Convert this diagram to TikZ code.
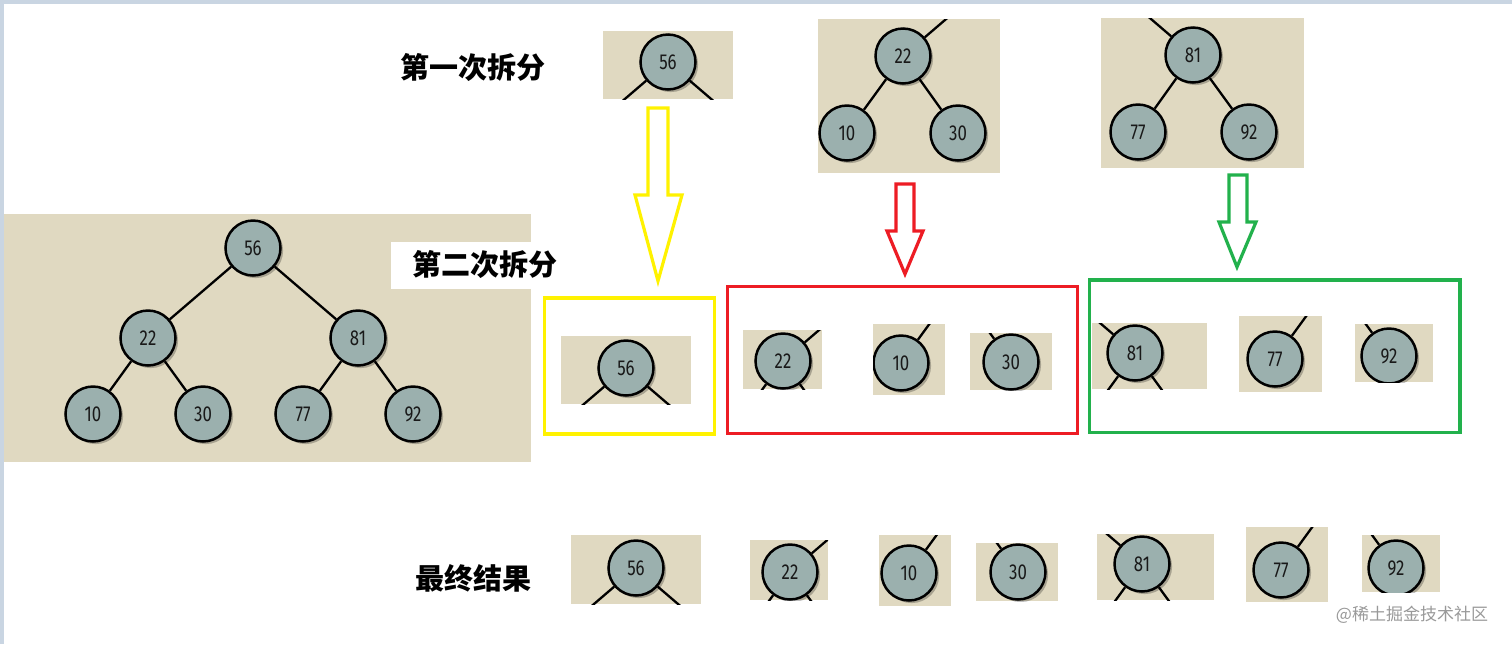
\documentclass[tikz,border=0pt]{standalone}
\usepackage{fontspec}
\newfontfamily\cjk{Noto Sans CJK SC}
\newfontfamily\numf{Fira Sans}
\usetikzlibrary{shadows}
\definecolor{beige}{HTML}{E0D9C1}
\definecolor{nodefill}{HTML}{9BB0AE}
\definecolor{bordblue}{HTML}{C9D5E2}
\definecolor{pyellow}{HTML}{FFF200}
\definecolor{pred}{HTML}{ED1C24}
\definecolor{pgreen}{HTML}{22B14C}
\newcommand{\numtxt}[1]{\scalebox{0.78}[1]{#1}}
\tikzset{
  bn/.style={circle, draw=black, line width=1.25pt, fill=nodefill, minimum size=27.5pt, inner sep=0pt,
    font=\numf\fontsize{10.8}{12}\selectfont, text=black!90,
    drop shadow={shadow xshift=1.3pt, shadow yshift=-1.3pt, fill=black, opacity=0.25}},
  edge/.style={line width=1.15pt, black},
  panel/.style={fill=beige},
  title/.style={font=\cjk\bfseries\fontsize{14.5}{16}\selectfont, text=black},
  hbox/.style={line width=1.7pt},
  harrow/.style={line width=1.6pt, line join=miter, fill=white}
}
\begin{document}
\begin{tikzpicture}[x=0.5pt,y=-0.5pt]
\useasboundingbox (0,0) rectangle (1512,644);
\fill[white] (0,0) rectangle (1512,644);
\fill[bordblue] (0,0) rectangle (1512,3.5);
\fill[bordblue] (0,0) rectangle (4,644);

% ---------- big tree ----------
\fill[panel] (4,214) rectangle (531,462);
\node[bn] (t56) at (253,248) {\numtxt{56}};
\node[bn] (t22) at (148,338) {\numtxt{22}};
\node[bn] (t81) at (358,338) {\numtxt{81}};
\node[bn] (t10) at (93,414) {\numtxt{10}};
\node[bn] (t30) at (203,414) {\numtxt{30}};
\node[bn] (t77) at (303,414) {\numtxt{77}};
\node[bn] (t92) at (413,414) {\numtxt{92}};
\draw[edge] (t56) -- (t22);
\draw[edge] (t56) -- (t81);
\draw[edge] (t22) -- (t10);
\draw[edge] (t22) -- (t30);
\draw[edge] (t81) -- (t77);
\draw[edge] (t81) -- (t92);

% ---------- labels ----------
\node[title] (l1) at (473,67) {第一次拆分};
\fill[white] (391,242) rectangle (545,289);
\node[title] (l2) at (484.5,264) {第二次拆分};
\node[title] (l3) at (473.5,578) {最终结果};
\node[font=\cjk\fontsize{8.5}{10}\selectfont, text=black!40] (wm) at (1412,615) {@稀土掘金技术社区};

% ---------- first split ----------
\begin{scope}
\clip (603,31) rectangle (733,99);
\fill[panel] (603,31) rectangle (733,99);
\node[bn] (a56) at (668,62) {\numtxt{56}};
\path (a56) ++(-63,54) coordinate (a56l) (a56) ++(63,54) coordinate (a56r);
\draw[edge] (a56) -- (a56l);
\draw[edge] (a56) -- (a56r);
\end{scope}

\begin{scope}
\clip (818,19) rectangle (1000,173);
\fill[panel] (818,19) rectangle (1000,173);
\node[bn] (a22) at (903,56) {\numtxt{22}};
\node[bn] (a10) at (847,133) {\numtxt{10}};
\node[bn] (a30) at (958,133) {\numtxt{30}};
\path (a22) ++(63,-54) coordinate (a22u);
\draw[edge] (a22) -- (a22u);
\draw[edge] (a22) -- (a10);
\draw[edge] (a22) -- (a30);
\end{scope}

\begin{scope}
\clip (1101,18) rectangle (1304,168);
\fill[panel] (1101,18) rectangle (1304,168);
\node[bn] (a81) at (1193,55) {\numtxt{81}};
\node[bn] (a77) at (1138,132) {\numtxt{77}};
\node[bn] (a92) at (1249,132) {\numtxt{92}};
\path (a81) ++(-63,-54) coordinate (a81u);
\draw[edge] (a81) -- (a81u);
\draw[edge] (a81) -- (a77);
\draw[edge] (a81) -- (a92);
\end{scope}

% ---------- arrows ----------
\draw[harrow, draw=pyellow] (648,108) -- (668,108) -- (668,195) -- (682,195) -- (658,281) -- (635,195) -- (648,195) -- cycle;
\draw[harrow, draw=pred] (896,184) -- (914,184) -- (914,231) -- (923,231) -- (905,274) -- (887,231) -- (896,231) -- cycle;
\draw[harrow, draw=pgreen] (1229,175) -- (1247,175) -- (1247,222) -- (1256,222) -- (1237,267) -- (1219,222) -- (1229,222) -- cycle;

% ---------- boxes ----------
\draw[hbox, draw=pyellow] (544.5,298) rectangle (714.5,434);
\draw[hbox, draw=pred] (727.5,286.5) rectangle (1077.5,433.5);
\draw[hbox, draw=pgreen] (1089.5,280) rectangle (1460,432.5);

% ---------- second split ----------
\begin{scope}
\clip (561,336) rectangle (691,404);
\fill[panel] (561,336) rectangle (691,404);
\node[bn] (b56) at (626,368) {\numtxt{56}};
\path (b56) ++(-63,54) coordinate (b56l) (b56) ++(63,54) coordinate (b56r);
\draw[edge] (b56) -- (b56l);
\draw[edge] (b56) -- (b56r);
\end{scope}

\begin{scope}
\clip (743,330) rectangle (822,389);
\fill[panel] (743,330) rectangle (822,389);
\node[bn] (b22) at (783,361) {\numtxt{22}};
\path (b22) ++(63,-54) coordinate (b22u) (b22) ++(-40,55) coordinate (b22l) (b22) ++(40,55) coordinate (b22r);
\draw[edge] (b22) -- (b22u);
\draw[edge] (b22) -- (b22l);
\draw[edge] (b22) -- (b22r);
\end{scope}

\begin{scope}
\clip (873,324) rectangle (945,395);
\fill[panel] (873,324) rectangle (945,395);
\node[bn] (b10) at (901,363) {\numtxt{10}};
\path (b10) ++(40,-55) coordinate (b10u);
\draw[edge] (b10) -- (b10u);
\end{scope}

\begin{scope}
\clip (970,333) rectangle (1052,390);
\fill[panel] (970,333) rectangle (1052,390);
\node[bn] (b30) at (1011,362) {\numtxt{30}};
\path (b30) ++(-40,-55) coordinate (b30u);
\draw[edge] (b30) -- (b30u);
\end{scope}

\begin{scope}
\clip (1092,323) rectangle (1207,389);
\fill[panel] (1092,323) rectangle (1207,389);
\node[bn] (b81) at (1135,353) {\numtxt{81}};
\path (b81) ++(-63,-54) coordinate (b81u) (b81) ++(-40,55) coordinate (b81l) (b81) ++(40,55) coordinate (b81r);
\draw[edge] (b81) -- (b81u);
\draw[edge] (b81) -- (b81l);
\draw[edge] (b81) -- (b81r);
\end{scope}

\begin{scope}
\clip (1239,316) rectangle (1322,392);
\fill[panel] (1239,316) rectangle (1322,392);
\node[bn] (b77) at (1275,359) {\numtxt{77}};
\path (b77) ++(40,-55) coordinate (b77u);
\draw[edge] (b77) -- (b77u);
\end{scope}

\begin{scope}
\clip (1355,324) rectangle (1433,382);
\fill[panel] (1355,324) rectangle (1433,382);
\node[bn] (b92) at (1389,356) {\numtxt{92}};
\path (b92) ++(-40,-55) coordinate (b92u);
\draw[edge] (b92) -- (b92u);
\end{scope}

% ---------- final result ----------
\begin{scope}
\clip (571,535) rectangle (701,604);
\fill[panel] (571,535) rectangle (701,604);
\node[bn] (c56) at (636,568) {\numtxt{56}};
\path (c56) ++(-63,54) coordinate (c56l) (c56) ++(63,54) coordinate (c56r);
\draw[edge] (c56) -- (c56l);
\draw[edge] (c56) -- (c56r);
\end{scope}

\begin{scope}
\clip (750,540) rectangle (828,600);
\fill[panel] (750,540) rectangle (828,600);
\node[bn] (c22) at (790,572) {\numtxt{22}};
\path (c22) ++(63,-54) coordinate (c22u) (c22) ++(-40,55) coordinate (c22l) (c22) ++(40,55) coordinate (c22r);
\draw[edge] (c22) -- (c22u);
\draw[edge] (c22) -- (c22l);
\draw[edge] (c22) -- (c22r);
\end{scope}

\begin{scope}
\clip (879,535) rectangle (951,606);
\fill[panel] (879,535) rectangle (951,606);
\node[bn] (c10) at (909,573) {\numtxt{10}};
\path (c10) ++(40,-55) coordinate (c10u);
\draw[edge] (c10) -- (c10u);
\end{scope}

\begin{scope}
\clip (976,543) rectangle (1058,601);
\fill[panel] (976,543) rectangle (1058,601);
\node[bn] (c30) at (1018,572) {\numtxt{30}};
\path (c30) ++(-40,-55) coordinate (c30u);
\draw[edge] (c30) -- (c30u);
\end{scope}

\begin{scope}
\clip (1097,534) rectangle (1214,600);
\fill[panel] (1097,534) rectangle (1214,600);
\node[bn] (c81) at (1142,564) {\numtxt{81}};
\path (c81) ++(-63,-54) coordinate (c81u) (c81) ++(-40,55) coordinate (c81l) (c81) ++(40,55) coordinate (c81r);
\draw[edge] (c81) -- (c81u);
\draw[edge] (c81) -- (c81l);
\draw[edge] (c81) -- (c81r);
\end{scope}

\begin{scope}
\clip (1246,527) rectangle (1328,602);
\fill[panel] (1246,527) rectangle (1328,602);
\node[bn] (c77) at (1281,570) {\numtxt{77}};
\path (c77) ++(40,-55) coordinate (c77u);
\draw[edge] (c77) -- (c77u);
\end{scope}

\begin{scope}
\clip (1362,535) rectangle (1440,592);
\fill[panel] (1362,535) rectangle (1440,592);
\node[bn] (c92) at (1396,568) {\numtxt{92}};
\path (c92) ++(-40,-55) coordinate (c92u);
\draw[edge] (c92) -- (c92u);
\end{scope}
\end{tikzpicture}
\end{document}
